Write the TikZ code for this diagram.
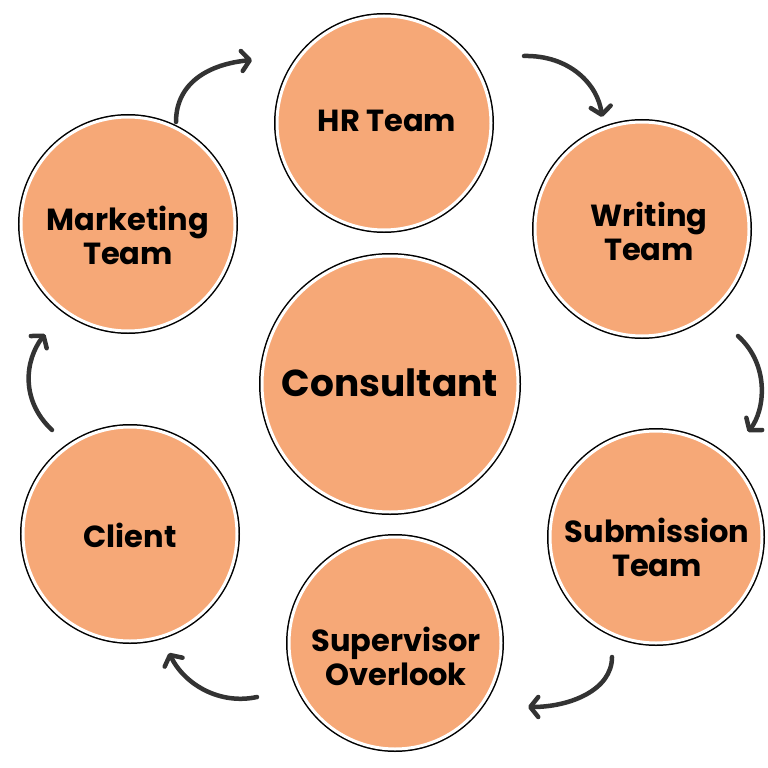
\documentclass[tikz,border=0pt]{standalone}
\usepackage{fontspec}
\setmainfont{Poppins}
\usetikzlibrary{arrows.meta}
\definecolor{peach}{HTML}{F6A877}
\definecolor{ink}{HTML}{333333}
\tikzset{
  bubble/.style={circle, inner sep=0pt, fill=peach, draw=white, line width=3pt,
    preaction={draw=black, line width=6pt}},
  lbl/.style={align=center, font=\fontsize{30.5}{34}\selectfont\bfseries, text=black, inner sep=0pt},
  flow/.style={draw=ink, line width=4.5pt, line cap=round,
    -{Straight Barb[round, length=8pt, width=20pt]}}
}
\begin{document}
\begin{tikzpicture}[x=1pt,y=-1pt]
\useasboundingbox (0,0) rectangle (768,768);
% circles
\node[bubble, minimum size=214pt] (hr)  at (384,123) {};
\node[bubble, minimum size=214pt] (wr)  at (642,229) {};
\node[bubble, minimum size=212pt] (sub) at (656,537) {};
\node[bubble, minimum size=212pt] (sup) at (395,643) {};
\node[bubble, minimum size=214pt] (cl)  at (130,534) {};
\node[bubble, minimum size=214pt] (mk)  at (128,224) {};
\node[bubble, minimum size=256pt] (con) at (390,384) {};
% labels
\node[lbl] (hrt)  at (387,121) {HR Team};
\node[lbl] (wrt)  at (649,231) {Writing\\Team};
\node[lbl] (subt) at (657,547) {Submission\\Team};
\node[lbl] (supt) at (396,656) {Supervisor\\Overlook};
\node[lbl] (clt)  at (130,535) {Client};
\node[lbl] (mkt)  at (128,235) {Marketing\\Team};
\node[lbl, font=\fontsize{37.5}{42}\selectfont\bfseries] (cont) at (390,383) {Consultant};
% arrow end points
\coordinate (a1s) at (176,122); \coordinate (a1e) at (252,60);
\coordinate (a2s) at (524,56);  \coordinate (a2e) at (602,117);
\coordinate (a3s) at (738,336); \coordinate (a3e) at (748,432);
\coordinate (a4s) at (612,657); \coordinate (a4e) at (528,707);
\coordinate (a5s) at (257,697); \coordinate (a5e) at (169,653);
\coordinate (a6s) at (52,430);  \coordinate (a6e) at (45,334);
\draw[flow] (a1s) .. controls (176,82) and (210,64) .. (a1e);
\draw[flow] (a2s) .. controls (570,55) and (598,85) .. (a2e);
\draw[flow] (a3s) .. controls (770,365) and (765,410) .. (a3e);
\draw[flow] (a4s) .. controls (612,690) and (570,707) .. (a4e);
\draw[flow] (a5s) .. controls (220,705) and (185,685) .. (a5e);
\draw[flow] (a6s) .. controls (20,400) and (25,360) .. (a6e);
\end{tikzpicture}
\end{document}
